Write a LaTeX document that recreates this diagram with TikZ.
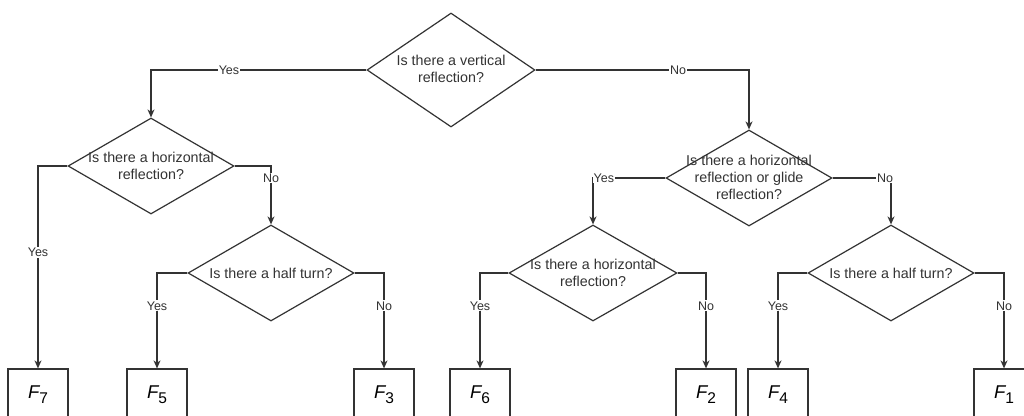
\documentclass[tikz,border=0pt]{standalone}
\usepackage{fontspec}
\setmainfont{Liberation Sans}
\usetikzlibrary{shapes.geometric,arrows.meta}
\definecolor{ink}{HTML}{333333}
\tikzset{
  dec/.style={diamond, draw=ink, line width=1.2pt, inner sep=0pt, minimum width=166pt, minimum height=96pt},
  qtext/.style={font=\fontsize{14.3}{17}\selectfont, text=ink, align=center, inner sep=0pt},
  fbox/.style={rectangle, draw=ink, line width=1.2pt, minimum width=60pt, minimum height=52pt, inner sep=0pt},
  edge/.style={draw=ink, line width=1.2pt, -{Stealth[length=8pt,width=7pt,inset=2.5pt]}},
  lbl/.style={fill=white, text=ink, font=\fontsize{12.5}{14}\selectfont, inner sep=1pt},
}
\newcommand{\Fsub}[1]{\fontsize{18.5}{18.5}\selectfont\itshape F\upshape\raisebox{-5pt}{\fontsize{15.5}{15.5}\selectfont #1}}
\begin{document}
\begin{tikzpicture}[x=1pt,y=-1pt]
\clip (0,0) rectangle (1024,415);
\fill[white] (0,0) rectangle (1024,415);
% decisions
\node[dec, minimum width=168pt, minimum height=114pt] (top) at (451,70) {};
\node[qtext] (toptxt) at (451,69) {Is there a vertical\\reflection?};
\node[dec] (d2) at (151,166) {};
\node[qtext] (d2txt) at (151,166) {Is there a horizontal\\reflection?};
\node[dec] (d3) at (271,273) {};
\node[qtext] (d3txt) at (271,273) {Is there a half turn?};
\node[dec] (d4) at (749,178) {};
\node[qtext] (d4txt) at (749,177) {Is there a horizontal\\reflection or glide\\reflection?};
\node[dec, minimum width=168pt] (d5) at (593,273) {};
\node[qtext] (d5txt) at (593,273) {Is there a horizontal\\reflection?};
\node[dec] (d6) at (891,273) {};
\node[qtext] (d6txt) at (891,273) {Is there a half turn?};
% results
\node[fbox] (f7) at (38,395) {\Fsub{7}};
\node[fbox] (f5) at (157,395) {\Fsub{5}};
\node[fbox] (f3) at (384,395) {\Fsub{3}};
\node[fbox] (f6) at (480,395) {\Fsub{6}};
\node[fbox] (f2) at (706,395) {\Fsub{2}};
\node[fbox] (f4) at (778,395) {\Fsub{4}};
\node[fbox] (f1) at (1004,395) {\Fsub{1}};
% connectors
\draw[edge] (top.west) -| node[lbl,pos=0.319] (l1) {Yes} (d2.north);
\draw[edge] (top.east) -| node[lbl,pos=0.334] (l2) {No} (d4.north);
\draw[edge] (d2.west) -| node[lbl,pos=0.714] (l3) {Yes} (f7.north);
\draw[edge] (d2.east) -| node[lbl,pos=0.602] (l4) {No} (d3.north);
\draw[edge] (d3.west) -| node[lbl,pos=0.672] (l5) {Yes} (f5.north);
\draw[edge] (d3.east) -| node[lbl,pos=0.672] (l6) {No} (f3.north);
\draw[edge] (d4.west) -| node[lbl,pos=0.425] (l7) {Yes} (d5.north);
\draw[edge] (d4.east) -| node[lbl,pos=0.449] (l8) {No} (d6.north);
\draw[edge] (d5.west) -| node[lbl,pos=0.672] (l9) {Yes} (f6.north);
\draw[edge] (d5.east) -| node[lbl,pos=0.672] (l10) {No} (f2.north);
\draw[edge] (d6.west) -| node[lbl,pos=0.672] (l11) {Yes} (f4.north);
\draw[edge] (d6.east) -| node[lbl,pos=0.672] (l12) {No} (f1.north);
\end{tikzpicture}
\end{document}
